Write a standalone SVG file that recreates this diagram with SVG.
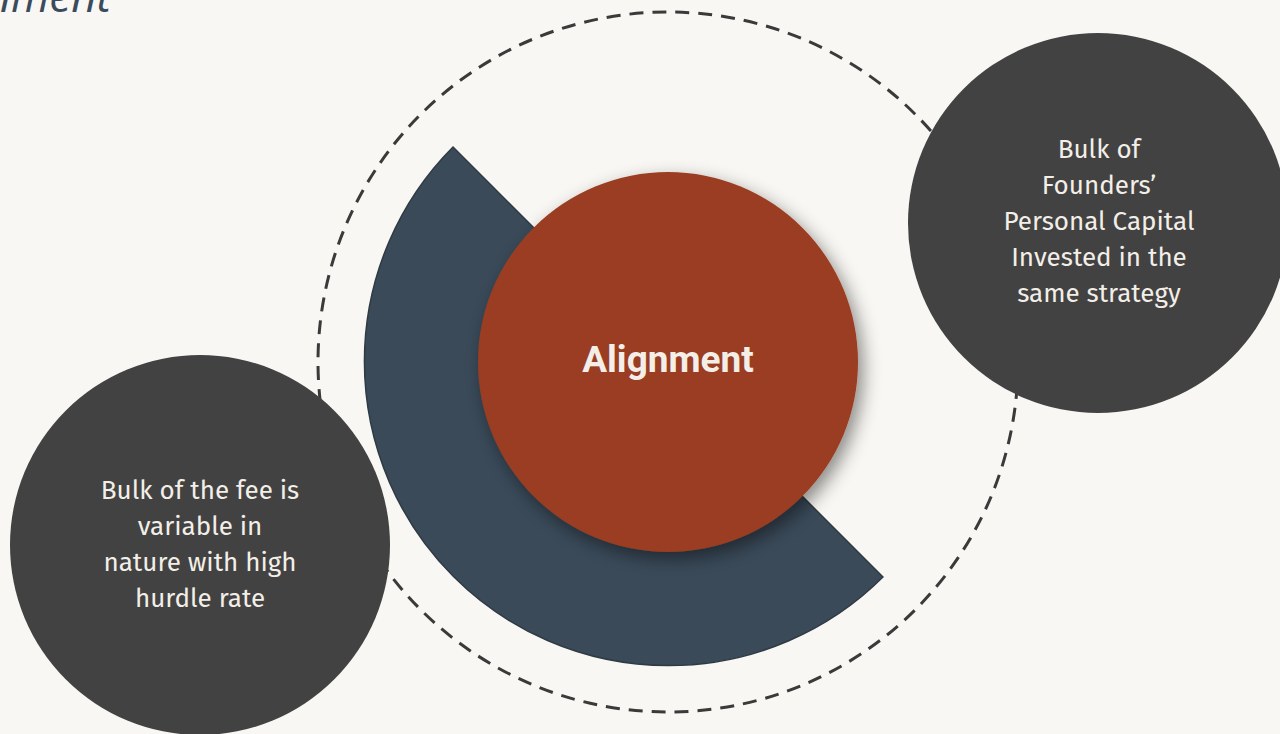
<svg xmlns="http://www.w3.org/2000/svg" width="1280" height="734" viewBox="0 0 1280 734">
<defs>
<style>
.node-c{fill:#424242}
.lbl{font-family:"Fira Sans","Open Sans","Noto Sans",sans-serif;font-size:26px;fill:#f3efe8;text-anchor:middle}
</style>
<filter id="sh" x="-30%" y="-30%" width="160%" height="160%">
<feDropShadow dx="5" dy="7" stdDeviation="9" flood-color="#000" flood-opacity="0.45"/>
</filter>
</defs>
<rect width="1280" height="734" fill="#f8f7f3"/>
<text x="111" y="12" text-anchor="end" font-family="Open Sans, sans-serif" font-style="italic" font-size="44" fill="#3b4b5c">Alignment</text>
<g id="connectors">
<circle cx="668" cy="362" r="350" fill="none" stroke="#3a3a3a" stroke-width="3" stroke-dasharray="14 9"/>
</g>
<g id="sector">
<path d="M 453.04 147.04 A 304 304 0 0 0 882.96 576.96 Z" fill="#3a4a59" stroke="#2f3a45" stroke-width="1.5"/>
</g>
<g id="center">
<circle cx="668" cy="362" r="190" fill="#9a3d20" filter="url(#sh)"/>
<text x="668" y="372" text-anchor="middle" font-family="Roboto, sans-serif" font-weight="bold" font-size="37" fill="#f3efe8">Alignment</text>
</g>
<g id="node-right">
<circle class="node-c" cx="1098" cy="223" r="190"/>
<text class="lbl" x="1099" y="158">Bulk of</text>
<text class="lbl" x="1099" y="194">Founders’</text>
<text class="lbl" x="1099" y="230">Personal Capital</text>
<text class="lbl" x="1099" y="266">Invested in the</text>
<text class="lbl" x="1099" y="302">same strategy</text>
</g>
<g id="node-left">
<circle class="node-c" cx="200" cy="545" r="190"/>
<text class="lbl" x="200" y="499">Bulk of the fee is</text>
<text class="lbl" x="200" y="535">variable in</text>
<text class="lbl" x="200" y="571">nature with high</text>
<text class="lbl" x="200" y="607">hurdle rate</text>
</g>
</svg>
